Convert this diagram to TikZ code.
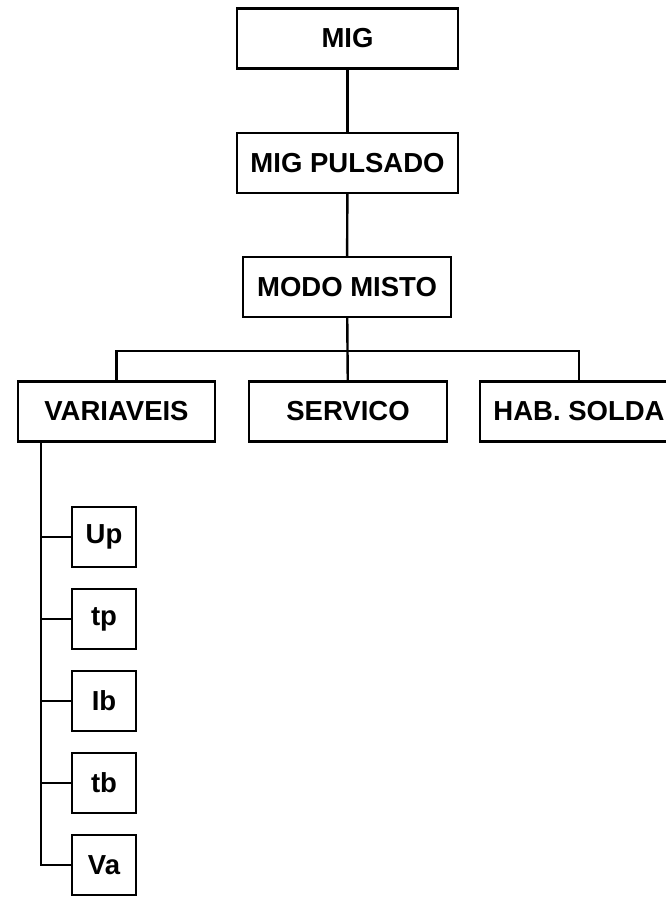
\documentclass[tikz,border=0pt]{standalone}
\usepackage{fontspec}
\setmainfont{Liberation Sans}
\usepackage{tikz}
\usetikzlibrary{positioning}

\begin{document}
\begin{tikzpicture}[x=1pt, y=-1pt, every node/.style={font=\fontsize{27.5}{30}\selectfont\bfseries}, menubox/.style={draw, line width=2.4pt, inner sep=0pt, minimum height=60pt}, wire/.style={line width=2.4pt}]
\clip (0,0) rectangle (666,897);
\node[menubox, minimum width=221pt] (mig) at (347.5,38.5) {MIG};
\node[menubox, minimum width=221pt] (pulsado) at (347.5,163) {MIG PULSADO};
\node[menubox, minimum width=208pt] (misto) at (347,287) {MODO MISTO};
\node[menubox, minimum width=197pt] (variaveis) at (116.5,411.5) {VARIAVEIS};
\node[menubox, minimum width=198pt] (servico) at (348,411.5) {SERVICO};
\node[menubox, minimum width=198pt] (solda) at (579,411.5) {HAB. SOLDA};
\foreach \name/\txt [count=\i from 0] in {up/Up, tp/tp, ib/Ib, tb/tb, va/Va}
  \node[menubox, minimum width=64pt] (\name) at (104,537+82*\i) {\txt};
\coordinate (bus) at (347,351);
\coordinate (rail) at (41,441);
\draw[wire] (mig)--(pulsado);
\draw[wire] (pulsado)--(misto);
\draw[wire] (misto)--(servico);
\draw[wire] (variaveis.north) |- (bus) -| (solda.north);
\draw[wire] (rail) |- (va.west);
\foreach \name in {up,tp,ib,tb}
  \draw[wire] (\name.west)--(\name.west -| rail);
\end{tikzpicture}
\end{document}
